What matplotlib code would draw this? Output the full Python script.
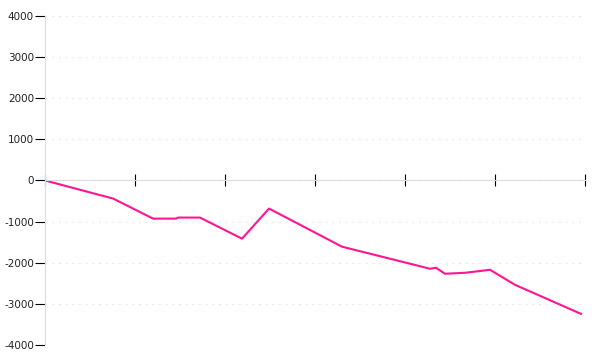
import matplotlib
matplotlib.use("Agg")
import matplotlib.pyplot as plt

# x in tick units (0..6), y values
xs = [0, 0.756, 1.2, 1.456, 1.478, 1.722, 2.189, 2.489, 3.3, 4.278, 4.344, 4.444,
      4.667, 4.856, 4.944, 5.222, 5.956]
ys = [0, -439, -927, -927, -902, -902, -1415, -683, -1610, -2146, -2122, -2268,
      -2244, -2195, -2171, -2537, -3244]
yticks = [-4000, -3000, -2000, -1000, 0, 1000, 2000, 3000, 4000]

fig = plt.figure(figsize=(6, 3.6), dpi=100)
ax = fig.add_axes([0.075, 0.0417, 0.9, 0.9139])

ax.plot(xs, ys, color="#ff1493", linewidth=1.5)

ax.set_xlim(0, 6)
ax.set_ylim(-4000, 4000)
ax.set_yticks(yticks)
ax.set_yticklabels([str(v) for v in yticks])
ax.set_xticks(range(7))
ax.set_xticklabels([])

ax.grid(axis="y", linestyle=(0, (2, 4)), color="#ebebeb", linewidth=0.8)
ax.set_axisbelow(True)

for s in ["top", "right"]:
    ax.spines[s].set_visible(False)
ax.spines["left"].set_color("#dddddd")
ax.spines["bottom"].set_position(("data", 0))
ax.spines["bottom"].set_color("#dddddd")

ax.tick_params(axis="x", direction="inout", length=9, color="black", width=0.8)
ax.tick_params(axis="y", direction="out", length=7, color="black", width=0.8,
               labelsize=7.5, labelcolor="#222222", pad=1)

fig.savefig("out.png", dpi=100)
